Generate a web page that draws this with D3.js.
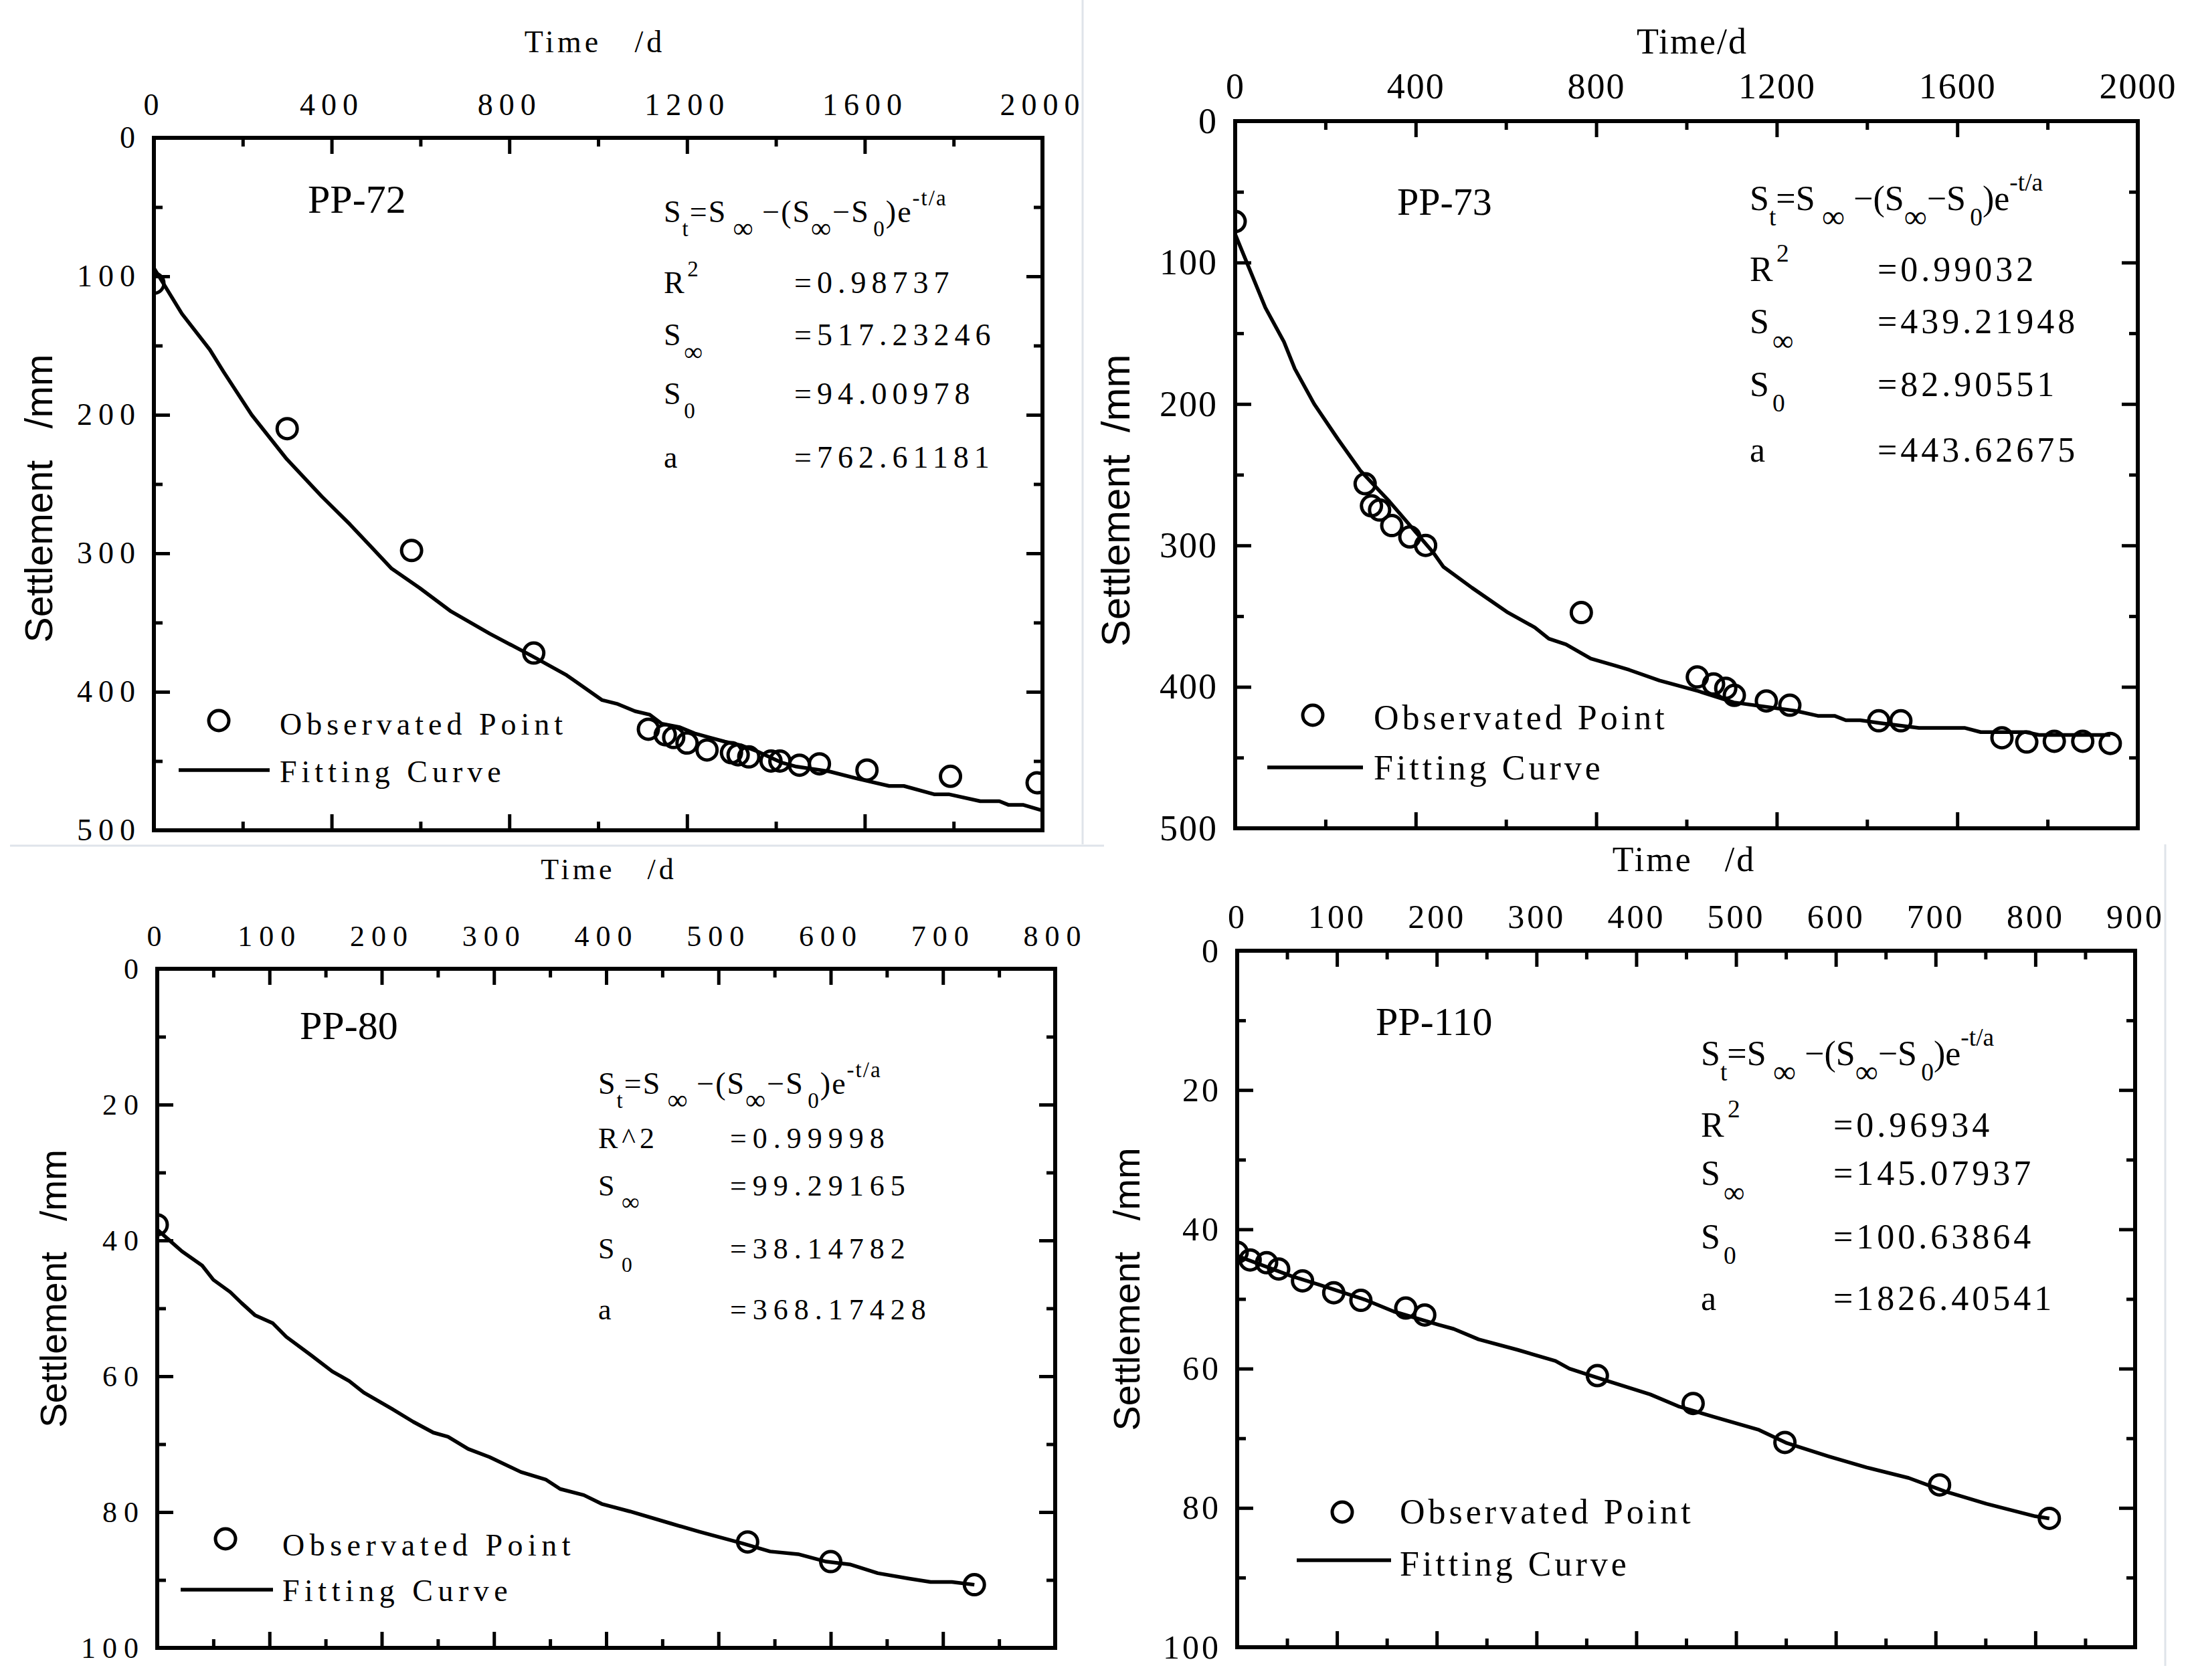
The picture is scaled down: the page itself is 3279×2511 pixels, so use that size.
<!DOCTYPE html>
<html>
<head>
<meta charset="utf-8">
<script src="https://cdn.jsdelivr.net/npm/d3@7"></script>
<style>
  body { margin: 0; background: #fff; }
  svg { display: block; }
  text { fill: #000; white-space: pre; }
</style>
</head>
<body>
<svg id="chart"></svg>
<script>
// ---- data ----
// PP-72
var pp72ObsT = [0, 300, 580, 855, 1113, 1151, 1170, 1200, 1245, 1300, 1315, 1339, 1389, 1409, 1453, 1498, 1605, 1793, 1988];
var pp72ObsS = [105, 210, 298, 372, 427, 431, 433, 437, 442, 444, 445.5, 447, 450, 450, 453, 452, 456.5, 461, 465.7];
var pp72FitT = [0, 63, 126, 157, 220, 299, 378, 441, 488, 535, 598, 669, 756, 850, 929, 1009, 1042, 1083, 1116, 1143, 1184, 1217, 1251, 1285, 1325, 1358, 1412, 1446, 1520, 1587, 1655, 1688, 1756, 1789, 1860, 1903, 1923, 1956, 1997];
var pp72FitS = [94, 127, 153, 169, 200, 232, 259, 279, 295, 311, 325, 342, 358, 374, 388, 406, 408.6, 414, 416.5, 423, 425.6, 430, 433, 436, 439, 443, 451, 454, 457.5, 463, 468, 468, 474, 474, 479, 479, 481.6, 481.6, 485.5];
var pp72Params = ["=0.98737", "=517.23246", "=94.00978", "=762.61181"];

// PP-73
var pp73ObsT = [0, 288, 302, 320, 347, 387, 422, 767, 1024, 1060, 1087, 1106, 1177, 1229, 1426, 1475, 1699, 1754, 1815, 1878, 1939];
var pp73ObsS = [71, 256.4, 272, 275, 286, 294, 300, 347.5, 393, 398, 401, 406, 410, 413, 424, 424, 436, 439, 438.5, 438.5, 440];
var pp73FitT = [0, 67, 108, 132, 175, 228, 277, 342, 440, 461, 525, 602, 664, 695, 733, 788, 842, 873, 940, 1026, 1105, 1242, 1291, 1328, 1353, 1385, 1429, 1515, 1616, 1652, 1752, 1781, 1939];
var pp73FitS = [80, 132, 156, 175, 200, 225, 247, 269, 305.5, 315, 330, 347, 358, 366, 370, 380, 385, 388, 395.5, 403, 411, 417, 420.5, 420.5, 423.6, 423.6, 425.6, 429, 429, 432, 432, 434, 434];
var pp73Params = ["=0.99032", "=439.21948", "=82.90551", "=443.62675"];

// PP-80
var pp80ObsT = [0, 526, 600, 728];
var pp80ObsS = [37.7, 84.4, 87.3, 90.7];
var pp80FitT = [0, 22, 40, 50, 65, 75, 87, 103, 115, 137, 156, 171, 184, 209, 228, 246, 259, 277, 296, 324, 346, 359, 380, 396, 421, 458, 483, 521, 546, 571, 596, 617, 642, 670, 689, 708, 728];
var pp80FitS = [38.4, 41.6, 43.7, 45.8, 47.6, 49.2, 51, 52.2, 54.2, 56.9, 59.3, 60.7, 62.4, 64.8, 66.7, 68.3, 68.9, 70.7, 71.9, 74.1, 75.2, 76.6, 77.5, 78.8, 79.9, 81.7, 82.9, 84.6, 85.8, 86.2, 87.3, 87.7, 89, 89.8, 90.3, 90.3, 90.7];
var pp80Params = ["=0.99998", "=99.29165", "=38.14782", "=368.17428"];

// PP-110
var pp110ObsT = [0, 13, 29.5, 41.6, 65.5, 96.8, 124, 169, 188, 361, 457, 549, 704, 814];
var pp110ObsS = [43.3, 44.4, 44.8, 45.7, 47.4, 49.1, 50.2, 51.3, 52.3, 61, 65, 70.6, 76.7, 81.5];
var pp110FitT = [0, 54, 81, 128, 157, 202, 217, 242, 281, 319, 333, 365, 414, 442, 477, 523, 551, 593, 631, 673, 709, 751, 800, 814];
var pp110FitS = [43.8, 46.7, 47.9, 50.1, 51.8, 53.7, 54.3, 55.8, 57.3, 58.9, 60, 61.5, 63.7, 65.4, 66.9, 68.8, 70.7, 72.6, 74.2, 75.7, 77.6, 79.4, 81.2, 81.5];
var pp110Params = ["=0.96934", "=145.07937", "=100.63864", "=1826.40541"];

// tick labels
var xTicks2000 = [0, 400, 800, 1200, 1600, 2000];
var yTicks500 = [0, 100, 200, 300, 400, 500];
var xTicks800 = [0, 100, 200, 300, 400, 500, 600, 700, 800];
var xTicks900 = [0, 100, 200, 300, 400, 500, 600, 700, 800, 900];
var yTicks100 = [0, 20, 40, 60, 80, 100];

var legendLabels = ["Observated Point", "Fitting Curve"];

// ---- layout ----
var W = 3279, H = 2511;
var serif = "'Liberation Serif', 'Times New Roman', serif";
var sans = "'Liberation Sans', Arial, sans-serif";
var majorLen = 24, minorLen = 13;

var svg = d3.select("#chart").attr("width", W).attr("height", H)
    .attr("viewBox", "0 0 " + W + " " + H);
svg.append("rect").attr("width", W).attr("height", H).attr("fill", "#fff");

// faint borders of the pasted pictures
var faint = [[1618, 0, 1618, 1262], [15, 1264, 1650, 1264], [3236, 1262, 3236, 2490]];
faint.forEach(function(l) {
    svg.append("line").attr("x1", l[0]).attr("y1", l[1]).attr("x2", l[2]).attr("y2", l[3])
        .attr("stroke", "#dfe4ea").attr("stroke-width", 3);
});

var panels = [
  { name: "PP-72", obsT: pp72ObsT, obsS: pp72ObsS, fitT: pp72FitT, fitS: pp72FitS, params: pp72Params,
    xTicks: xTicks2000, yTicks: yTicks500, r2Label: "sup",
    left: 230, right: 1558, top: 206, bottom: 1241, tickFont: 46, tickLs: 9,
    title: "Time   /d", titleX: 889, titleY: 78, titleFont: 46, titleLs: 5,
    ylab: "Settlement   /mm", ylabX: 78, ylabY: 745, ylabFont: 57,
    nameX: 460, nameY: 318, nameFont: 60,
    eqX: 992, eqY: 332, eqFont: 46, eqLs: 2,
    rows: [438, 516, 604, 699], valX: 1187, rowFont: 46, valLs: 8,
    legCx: 327, legCy: 1077, legTx: 418, legT1: 1098, legX1: 267, legX2: 403, legLy: 1151, legT2: 1169, legFont: 46, legLs: 7 },
  { name: "PP-73", obsT: pp73ObsT, obsS: pp73ObsS, fitT: pp73FitT, fitS: pp73FitS, params: pp73Params,
    xTicks: xTicks2000, yTicks: yTicks500, r2Label: "sup",
    left: 1846, right: 3195, top: 181, bottom: 1238, tickFont: 54, tickLs: 2,
    title: "Time/d", titleX: 2529, titleY: 80, titleFont: 54, titleLs: 2,
    ylab: "Settlement  /mm", ylabX: 1688, ylabY: 748, ylabFont: 60,
    nameX: 2088, nameY: 321, nameFont: 58,
    eqX: 2615, eqY: 314, eqFont: 52, eqLs: 0,
    rows: [420, 498, 592, 690], valX: 2806, rowFont: 52, valLs: 5,
    legCx: 1962, legCy: 1069, legTx: 2053, legT1: 1090, legX1: 1894, legX2: 2037, legLy: 1147, legT2: 1165, legFont: 52, legLs: 5 },
  { name: "PP-80", obsT: pp80ObsT, obsS: pp80ObsS, fitT: pp80FitT, fitS: pp80FitS, params: pp80Params,
    xTicks: xTicks800, yTicks: yTicks100, r2Label: "caret",
    left: 235, right: 1577, top: 1448, bottom: 2463, tickFont: 44, tickLs: 10,
    title: "Time   /d", titleX: 910, titleY: 1314, titleFont: 44, titleLs: 5,
    ylab: "Settlement   /mm", ylabX: 99, ylabY: 1926, ylabFont: 55,
    nameX: 448, nameY: 1553, nameFont: 60,
    eqX: 894, eqY: 1635, eqFont: 46, eqLs: 2,
    rows: [1716, 1787, 1881, 1972], valX: 1091, rowFont: 44, valLs: 9,
    legCx: 337, legCy: 2300, legTx: 422, legT1: 2325, legX1: 270, legX2: 408, legLy: 2376, legT2: 2393, legFont: 46, legLs: 7.5 },
  { name: "PP-110", obsT: pp110ObsT, obsS: pp110ObsS, fitT: pp110FitT, fitS: pp110FitS, params: pp110Params,
    xTicks: xTicks900, yTicks: yTicks100, r2Label: "sup",
    left: 1849, right: 3191, top: 1421, bottom: 2462, tickFont: 50, tickLs: 4,
    title: "Time   /d", titleX: 2517, titleY: 1302, titleFont: 52, titleLs: 3,
    ylab: "Settlement   /mm", ylabX: 1703, ylabY: 1927, ylabFont: 56,
    nameX: 2056, nameY: 1547, nameFont: 60,
    eqX: 2542, eqY: 1592, eqFont: 52, eqLs: 0,
    rows: [1699, 1771, 1866, 1958], valX: 2740, rowFont: 52, valLs: 5,
    legCx: 2006, legCy: 2260, legTx: 2092, legT1: 2277, legX1: 1938, legX2: 2079, legLy: 2332, legT2: 2355, legFont: 52, legLs: 5 }
];

//midpoints between major ticks give the minor ticks
function minors(ticks) {
    return ticks.slice(1).map(function(v, i) { return (v + ticks[i]) / 2; });
}

//styles tick lines and removes the domain path
function styleAxis(sel, p, keepText) {
    sel.select(".domain").remove();
    sel.selectAll("line").attr("stroke", "#000").attr("stroke-width", 5);
    if (!keepText) sel.selectAll("text").remove();
    else sel.selectAll("text")
        .style("font-family", serif)
        .style("font-size", p.tickFont + "px")
        .style("letter-spacing", p.tickLs + "px")
        .attr("fill", "#000");
}

//plain text helper
function label(g, x, y, str, font, size, ls, anchor) {
    return g.append("text").attr("x", x).attr("y", y)
        .attr("xml:space", "preserve")
        .attr("text-anchor", anchor || "start")
        .style("font-family", font).style("font-size", size + "px")
        .style("letter-spacing", (ls || 0) + "px")
        .text(str);
}

//fitted equation with sub- and superscripts
function equation(g, p) {
    var fs = p.eqFont, sub = fs * 0.72, inf = fs * 0.92, dSub = fs * 0.45, dInf = fs * 0.5;
    var t = g.append("text").attr("x", p.eqX).attr("y", p.eqY)
        .attr("xml:space", "preserve")
        .style("font-family", serif).style("font-size", fs + "px")
        .style("letter-spacing", p.eqLs + "px");
    var parts = [
        ["S", 0, fs, 0], ["t", dSub, sub, 0], ["=S", -dSub, fs, 0],
        ["\u221E", dInf, inf, fs * 0.2], ["\u2212(S", -dInf, fs, fs * 0.25],
        ["\u221E", dInf, inf, 0], ["\u2212S", -dInf, fs, 0],
        ["0", dSub, sub, fs * 0.12], [")e", -dSub, fs, 0],
        ["-t/a", -fs * 0.55, sub, 0]
    ];
    parts.forEach(function(d) {
        t.append("tspan").attr("dy", d[1]).attr("dx", d[3])
            .style("font-size", d[2] + "px").text(d[0]);
    });
}

//parameter rows: R2, S-infinity, S0, a
function paramRows(g, p) {
    var fs = p.rowFont;
    var rowLabels = [
        p.r2Label === "caret" ? [["R^2", 0, fs]] : [["R", 0, fs], ["2", -fs * 0.55, fs * 0.72]],
        [["S", 0, fs], ["\u221E", fs * 0.5, fs * 0.85]],
        [["S", 0, fs], ["0", fs * 0.45, fs * 0.72]],
        [["a", 0, fs]]
    ];
    rowLabels.forEach(function(parts, i) {
        var t = g.append("text").attr("x", p.eqX).attr("y", p.rows[i])
            .style("font-family", serif).style("font-size", fs + "px")
            .style("letter-spacing", (p.r2Label === "caret" ? 6 : 0) + "px");
        parts.forEach(function(d, j) {
            t.append("tspan").attr("dy", d[1]).attr("dx", j ? fs * 0.1 : 0)
                .style("font-size", d[2] + "px").text(d[0]);
        });
        label(g, p.valX, p.rows[i], p.params[i], serif, fs, p.valLs);
    });
}

panels.forEach(function(p, k) {
    var g = svg.append("g");
    var x = d3.scaleLinear().domain([p.xTicks[0], p.xTicks[p.xTicks.length - 1]]).range([p.left, p.right]);
    var y = d3.scaleLinear().domain([p.yTicks[0], p.yTicks[p.yTicks.length - 1]]).range([p.top, p.bottom]);

    var clipId = "clip" + k;
    g.append("clipPath").attr("id", clipId).append("rect")
        .attr("x", p.left).attr("y", p.top)
        .attr("width", p.right - p.left).attr("height", p.bottom - p.top);

    //fitting curve
    var line = d3.line().x(function(d) { return x(d[0]); }).y(function(d) { return y(d[1]); });
    g.append("path")
        .datum(d3.zip(p.fitT, p.fitS))
        .attr("clip-path", "url(#" + clipId + ")")
        .attr("d", line)
        .attr("fill", "none").attr("stroke", "#000")
        .attr("stroke-width", 5.5).attr("stroke-linejoin", "round");

    //observed points
    g.append("g").attr("clip-path", "url(#" + clipId + ")")
        .selectAll("circle")
        .data(d3.zip(p.obsT, p.obsS))
        .enter()
        .append("circle")
        .attr("cx", function(d) { return x(d[0]); })
        .attr("cy", function(d) { return y(d[1]); })
        .attr("r", 15)
        .attr("fill", "none").attr("stroke", "#000").attr("stroke-width", 5);

    //axes: ticks inward on all four sides, labels top and left
    var xMin = minors(p.xTicks), yMin = minors(p.yTicks);
    g.append("g").attr("transform", "translate(0," + p.top + ")")
        .call(d3.axisTop(x).tickValues(p.xTicks).tickSize(-majorLen).tickPadding(34).tickFormat(d3.format("d")))
        .call(styleAxis, p, true);
    g.append("g").attr("transform", "translate(0," + p.top + ")")
        .call(d3.axisTop(x).tickValues(xMin).tickSize(-minorLen)).call(styleAxis, p, false);
    g.append("g").attr("transform", "translate(0," + p.bottom + ")")
        .call(d3.axisBottom(x).tickValues(p.xTicks).tickSize(-majorLen)).call(styleAxis, p, false);
    g.append("g").attr("transform", "translate(0," + p.bottom + ")")
        .call(d3.axisBottom(x).tickValues(xMin).tickSize(-minorLen)).call(styleAxis, p, false);
    g.append("g").attr("transform", "translate(" + p.left + ",0)")
        .call(d3.axisLeft(y).tickValues(p.yTicks).tickSize(-majorLen).tickPadding(28 - p.tickLs).tickFormat(d3.format("d")))
        .call(styleAxis, p, true);
    g.append("g").attr("transform", "translate(" + p.left + ",0)")
        .call(d3.axisLeft(y).tickValues(yMin).tickSize(-minorLen)).call(styleAxis, p, false);
    g.append("g").attr("transform", "translate(" + p.right + ",0)")
        .call(d3.axisRight(y).tickValues(p.yTicks).tickSize(-majorLen)).call(styleAxis, p, false);
    g.append("g").attr("transform", "translate(" + p.right + ",0)")
        .call(d3.axisRight(y).tickValues(yMin).tickSize(-minorLen)).call(styleAxis, p, false);

    //frame
    g.append("rect")
        .attr("x", p.left).attr("y", p.top)
        .attr("width", p.right - p.left).attr("height", p.bottom - p.top)
        .attr("fill", "none").attr("stroke", "#000").attr("stroke-width", 6);

    //axis titles
    label(g, p.titleX, p.titleY, p.title, serif, p.titleFont, p.titleLs, "middle");
    g.append("text")
        .attr("transform", "translate(" + p.ylabX + "," + p.ylabY + ") rotate(-90)")
        .attr("xml:space", "preserve")
        .attr("text-anchor", "middle")
        .style("font-family", sans).style("font-size", p.ylabFont + "px")
        .text(p.ylab);

    //name, equation and parameters
    label(g, p.nameX, p.nameY, p.name, serif, p.nameFont, 0);
    equation(g, p);
    paramRows(g, p);

    //legend
    g.append("circle").attr("cx", p.legCx).attr("cy", p.legCy).attr("r", 15)
        .attr("fill", "none").attr("stroke", "#000").attr("stroke-width", 5);
    label(g, p.legTx, p.legT1, legendLabels[0], serif, p.legFont, p.legLs);
    g.append("line").attr("x1", p.legX1).attr("x2", p.legX2)
        .attr("y1", p.legLy).attr("y2", p.legLy)
        .attr("stroke", "#000").attr("stroke-width", 5.5);
    label(g, p.legTx, p.legT2, legendLabels[1], serif, p.legFont, p.legLs);
});
</script>
</body>
</html>
